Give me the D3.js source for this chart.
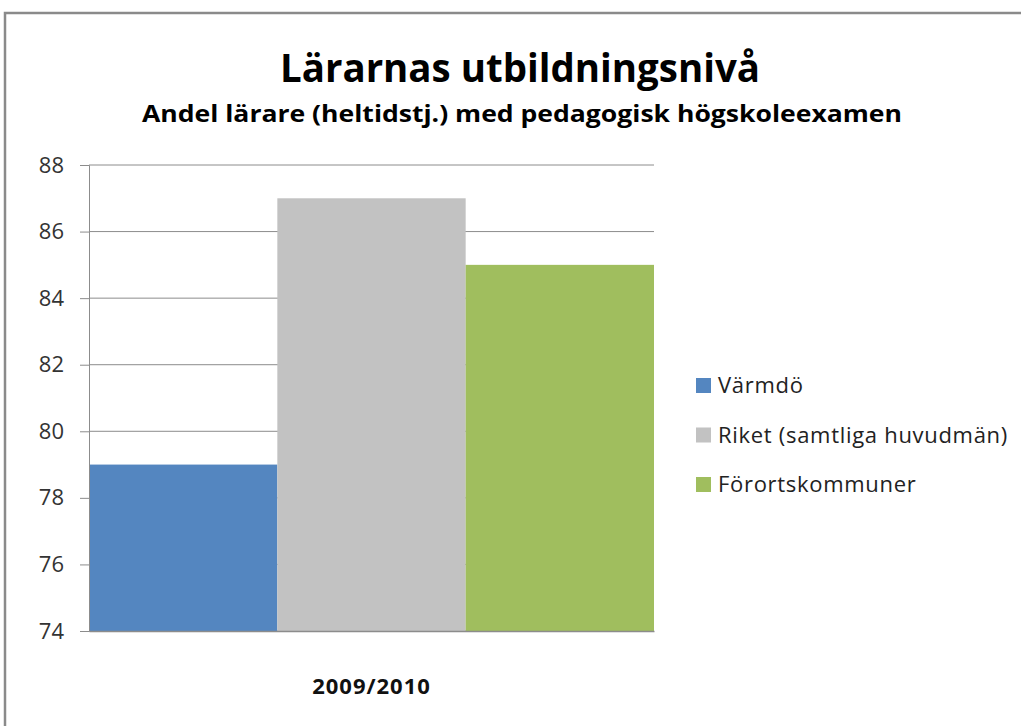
<!DOCTYPE html>
<html>
<head>
<meta charset="utf-8">
<script src="https://cdn.jsdelivr.net/npm/d3@7"></script>
<style>
  body { margin: 0; background: #fff; }
  text { font-family: "Open Sans", "Noto Sans", sans-serif; }
</style>
</head>
<body>
<div id="chart"></div>
<script>
const categories = ["2009/2010"]
const seriesNames = ["Värmdö", "Riket (samtliga huvudmän)", "Förortskommuner"]
const seriesValues = [79, 87, 85]
const seriesColors = ["#5486C0", "#C2C2C2", "#A0BE5E"]
const yTicks = [74, 76, 78, 80, 82, 84, 86, 88]

const W = 1021, H = 726
const plot = { left: 89, right: 654, top: 165, bottom: 631 } // plot area

let svg = d3.select("#chart").append("svg")
    .attr("width", W)
    .attr("height", H)

// outer frame (cut off at right and bottom like the screenshot)
svg.append("rect")
    .attr("x", 5).attr("y", 13)
    .attr("width", W + 20).attr("height", H + 20)
    .attr("fill", "none")
    .attr("stroke", "#8a8a8a")
    .attr("stroke-width", 2.5)

// titles
svg.append("text")
    .attr("x", 520).attr("y", 82)
    .attr("text-anchor", "middle")
    .attr("font-size", 40)
    .attr("font-weight", "bold")
    .attr("textLength", 480)
    .attr("lengthAdjust", "spacingAndGlyphs")
    .text("Lärarnas utbildningsnivå")

svg.append("text")
    .attr("x", 522).attr("y", 122)
    .attr("text-anchor", "middle")
    .attr("font-size", 24)
    .attr("font-weight", "bold")
    .attr("textLength", 760)
    .attr("lengthAdjust", "spacingAndGlyphs")
    .text("Andel lärare (heltidstj.) med pedagogisk högskoleexamen")

let x0 = d3.scaleBand().domain(categories).range([plot.left, plot.right])
let x1 = d3.scaleBand().domain(seriesNames).range([0, x0.bandwidth()])
let y = d3.scaleLinear().domain([74, 88]).range([plot.bottom, plot.top])

// gridlines
svg.append("g")
    .selectAll("line")
    .data(yTicks)
    .enter()
    .append("line")
    .attr("x1", plot.left).attr("x2", plot.right)
    .attr("y1", d => y(d)).attr("y2", d => y(d))
    .attr("stroke", "#8c8c8c")
    .attr("stroke-width", 1)

// bars
svg.append("g")
    .selectAll("rect")
    .data(seriesNames.map((name, i) => ({ name: name, value: seriesValues[i], color: seriesColors[i] })))
    .enter()
    .append("rect")
    .attr("x", d => x0(categories[0]) + x1(d.name))
    .attr("y", d => y(d.value))
    .attr("width", x1.bandwidth())
    .attr("height", d => y(74) - y(d.value))
    .attr("fill", d => d.color)

// y axis
let yAxis = svg.append("g")
    .attr("transform", "translate(" + plot.left + ",0)")
    .call(d3.axisLeft(y).tickValues(yTicks).tickSize(9).tickPadding(16))
yAxis.select(".domain").attr("stroke", "#8c8c8c")
yAxis.selectAll(".tick line").attr("stroke", "#8c8c8c")
yAxis.selectAll(".tick text")
    .attr("font-size", 22)
    .attr("fill", "#333")
    .style("font-family", "'Open Sans', sans-serif")

// x axis
let xAxis = svg.append("g")
    .attr("transform", "translate(0," + plot.bottom + ")")
    .call(d3.axisBottom(x0).tickSize(0))
xAxis.select(".domain").attr("stroke", "#8c8c8c").attr("stroke-width", 1.5)
xAxis.selectAll(".tick text")
    .attr("dy", null)
    .attr("y", 63)
    .attr("font-size", 22)
    .attr("font-weight", "bold")
    .attr("letter-spacing", 1)
    .attr("fill", "#111")
    .style("font-family", "'Open Sans', sans-serif")

// legend
let legend = svg.append("g")
    .selectAll("g")
    .data(seriesNames)
    .enter()
    .append("g")
    .attr("transform", (d, i) => "translate(696," + (378 + i * 49.5) + ")")

legend.append("rect")
    .attr("width", 15).attr("height", 15)
    .attr("fill", (d, i) => seriesColors[i])

legend.append("text")
    .attr("x", 22).attr("y", 15)
    .attr("font-size", 22)
    .attr("letter-spacing", 0.7)
    .attr("fill", "#222")
    .text(d => d)
</script>
</body>
</html>
